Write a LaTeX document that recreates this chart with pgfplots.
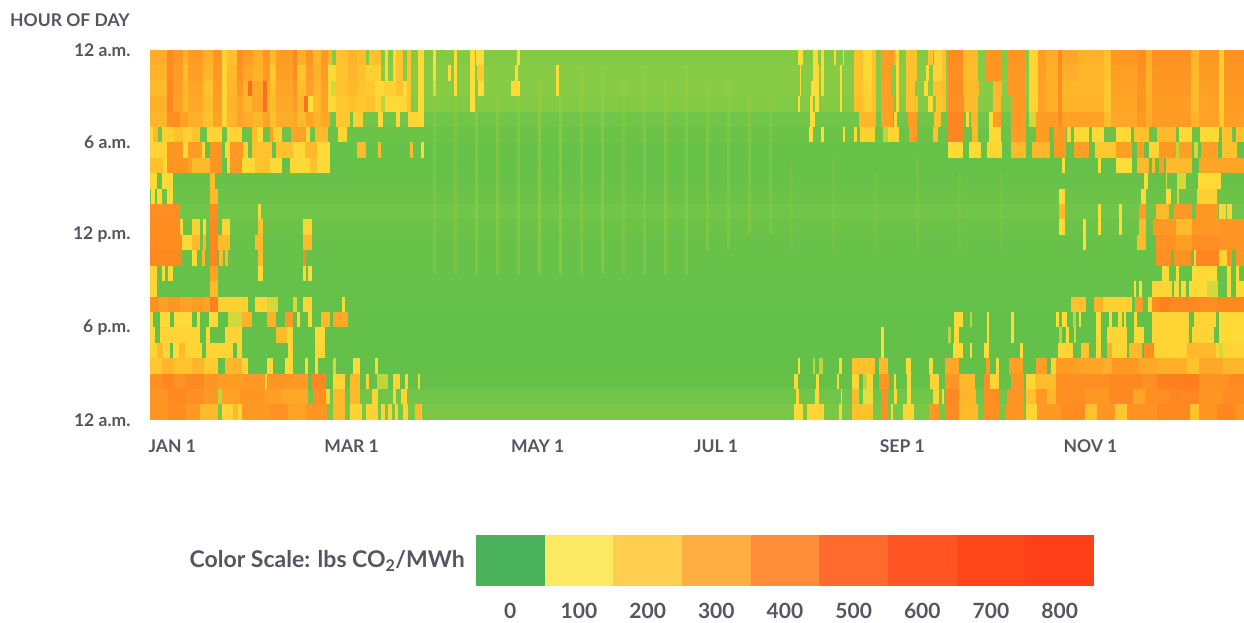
\documentclass[border=0pt]{standalone}
\usepackage{pgfplots}
\pgfplotsset{compat=1.18}
\usepackage{fontspec}
\setmainfont{Lato}
\definecolor{txt}{RGB}{85,86,96}
\newcommand\R[2]{\addplot[mesh,shader=flat corner,line width=15.7pt,point meta=explicit,forget plot] table[row sep=crcr,x index=0,y expr=#1,meta index=1]{#2};}
\newcommand\V[4]{\addplot[color=stripe,line width=2.6pt,opacity=#4,forget plot] coordinates {(#1,#2) (#1,#3)};}
\definecolor{stripe}{RGB}{160,208,62}
\begin{document}
\begin{tikzpicture}[x=1pt,y=1pt]
\path (0,0) rectangle (1244,621);
\begin{axis}[at={(150pt,201pt)},anchor=south west,width=1094pt,height=370pt,scale only axis,
 xmin=0,xmax=365,ymin=0,ymax=24,y dir=reverse,axis line style={draw=none},
 ytick={0,6,12,18,24},yticklabels={12 a.m.,6 a.m.,12 p.m.,6 p.m.,12 a.m.},
 xtick={0,58.7,121,182,244,305.3},xticklabels={JAN 1,MAR 1,MAY 1,JUL 1,SEP 1,NOV 1},
 xticklabel style={anchor=north west,yshift=-16pt,xshift=-5pt,font=\fontsize{17.5}{20}\selectfont\bfseries,text=txt},
 yticklabel style={xshift=-16pt,font=\fontsize{17.5}{20}\selectfont\bfseries,text=txt},
 tick style={draw=none},
 colormap={co2}{rgb255(0)=(92,190,74) rgb255(26)=(104,194,73) rgb255(40)=(136,203,68) rgb255(60)=(190,213,60) rgb255(90)=(255,225,58) rgb255(150)=(255,200,46) rgb255(250)=(255,165,38) rgb255(350)=(255,134,32) rgb255(500)=(245,90,26)},
 point meta min=0,point meta max=500]
\R{0.5}{0 230\\5.6 340\\7.8 290\\11.1 210\\12.8 280\\17.8 220\\21 300\\23.9 120\\25.6 170\\28.9 320\\31 280\\34.4 220\\37.8 300\\40 190\\42.2 280\\47.8 340\\48.9 220\\52 300\\54.4 200\\57.2 290\\59.4 200\\60.6 38\\62.2 170\\66 210\\69 180\\72.2 38\\73.1 170\\77.2 38\\78.3 110\\79.4 38\\81.1 110\\82.2 160\\84.4 38\\85.6 170\\87.2 38\\89.4 110\\91.3 38\\94.5 100\\95.3 38\\101.5 100\\102.5 38\\106.7 100\\108.3 38\\108.7 100\\111.3 38\\122.5 100\\123.5 38\\216.1 100\\217.8 38\\221.1 110\\222.8 38\\223.9 110\\224.8 38\\228.1 110\\228.9 38\\231.1 100\\231.7 38\\235 170\\238 110\\241 170\\242.2 38\\243.9 280\\248.3 200\\248.9 110\\250 38\\252.2 170\\255.8 38\\259.4 170\\261.1 38\\261.7 120\\264.4 170\\265.5 38\\266.1 330\\271.1 190\\276.1 38\\278.9 300\\284.4 38\\286.4 300\\292.2 38\\293.3 120\\296.1 280\\298.9 230\\302.8 340\\304.4 240\\310 210\\318.3 170\\320.6 290\\329.4 320\\332.2 220\\334.4 310\\347.2 200\\350 290\\356.7 130\\358.3 310\\365 310\\}
\R{1.5}{0 210\\5.6 330\\7.8 280\\11.1 180\\12.8 270\\17.8 200\\21 290\\23.9 120\\25.6 190\\28.9 310\\31 240\\34.4 210\\37.8 290\\40 150\\42.2 270\\47.8 330\\48.9 160\\52 280\\54.4 210\\57.2 280\\59.4 110\\62.2 170\\66 200\\69 170\\72.2 130\\77.2 40\\78.3 110\\79.4 40\\81.1 110\\82.2 160\\84.4 40\\85.6 170\\87.2 40\\89.4 110\\91.3 40\\94.5 100\\95.3 40\\99.5 100\\100.5 40\\101.5 100\\102.5 40\\106.7 100\\108.3 40\\109 150\\111.3 40\\121.7 100\\122.8 40\\135.5 100\\136.5 40\\216.7 100\\217.2 40\\221.1 110\\223.1 40\\223.9 110\\224.8 40\\230.3 100\\230.9 40\\235 170\\238 110\\241 170\\242.2 40\\243.9 280\\247.2 40\\248.9 110\\250 40\\252.2 170\\255.8 40\\258.9 100\\260 40\\261.1 120\\264.4 170\\265.5 40\\266.1 320\\271.1 180\\276.1 40\\278.9 300\\284.4 40\\286.4 290\\292.2 40\\293.3 120\\296.1 270\\298.9 220\\302.8 330\\304.4 220\\310 200\\318.3 160\\320.6 270\\329.4 310\\332.2 210\\334.4 300\\347.2 190\\350 280\\356.7 130\\358.3 300\\365 300\\}
\R{2.5}{0 190\\5.6 340\\7.8 270\\11.1 200\\12.8 250\\17.8 170\\21 280\\23.9 120\\25.6 200\\28.9 290\\31 210\\32.6 420\\34 240\\37.8 420\\39 230\\40 170\\42.2 250\\47.8 300\\48.9 180\\52 270\\54.4 200\\57.2 270\\59.4 110\\60.4 70\\62.2 170\\66 190\\69 160\\72.2 150\\75 110\\78 130\\82.2 160\\84.4 100\\85.6 170\\87.2 40\\89.4 110\\91.3 40\\94.5 100\\95.3 40\\101.5 100\\102.5 40\\106.7 100\\108.3 40\\109.4 100\\111.3 40\\120.5 110\\123.3 40\\135.5 100\\136.5 40\\216.7 100\\217.2 40\\220.5 100\\223.1 40\\223.9 110\\224.8 40\\230.3 100\\230.9 40\\235 170\\238 120\\241 170\\242.2 40\\243.9 270\\247.2 40\\248.9 110\\250 40\\252.2 170\\255.3 40\\258.3 100\\259.4 40\\261.1 170\\264.4 190\\265.5 40\\266.1 330\\271.1 190\\276.7 40\\281.1 200\\284.4 40\\286.4 290\\292.2 40\\293.3 120\\296.1 260\\298.9 220\\302.8 330\\304.4 200\\318.3 150\\320.6 260\\329.4 300\\332.2 210\\334.4 290\\347.2 180\\350 270\\356.7 130\\358.3 290\\365 290\\}
\R{3.5}{0 220\\5.6 350\\7.8 260\\11.1 190\\12.8 240\\17.8 180\\21 270\\23.9 120\\25.6 210\\28.9 260\\31 200\\34 250\\37.8 420\\39 220\\40 180\\42.2 240\\47.8 290\\48.9 200\\51.4 420\\52.8 90\\54.4 190\\57.2 260\\59.4 110\\62.2 150\\66 170\\69 150\\72.2 170\\75 120\\77.2 60\\78.3 110\\84.4 120\\85.6 170\\87.2 38\\89.4 110\\91.3 38\\106.7 100\\108.3 38\\216.1 100\\216.9 38\\220.2 100\\221.1 38\\222 100\\223.1 38\\230.3 100\\230.9 38\\235 180\\238 130\\241 170\\242.2 38\\243.9 270\\247.8 38\\248.9 110\\250 38\\252.2 170\\256.1 38\\259.4 110\\261.1 38\\262.2 150\\264.4 170\\265.5 38\\266.1 320\\271.7 190\\276.1 38\\281.1 190\\283.9 38\\287.2 290\\292.2 38\\293.3 120\\296.1 260\\298.9 220\\302.8 330\\304.4 210\\318.3 150\\320.6 250\\329.4 300\\332.2 220\\334.4 280\\347.2 190\\350 260\\356.7 130\\358.3 280\\365 280\\}
\R{4.5}{0 200\\5.6 320\\10 260\\12.8 220\\17.8 170\\21 250\\23.9 120\\25.6 200\\28.9 260\\31 230\\34.4 200\\37.8 260\\40 170\\42.2 230\\47.8 250\\48.9 190\\52 250\\54.4 210\\57.2 240\\60 30\\62.2 150\\66.7 30\\67.8 130\\71.1 30\\76.1 110\\77.8 30\\82.2 110\\83.3 30\\86.1 120\\89.4 110\\91.3 30\\220.2 100\\222 30\\235.8 30\\236.7 200\\242.2 30\\243.9 260\\247.8 30\\248.3 110\\249.1 30\\252.8 280\\255.8 30\\261.7 170\\263.9 30\\266.1 350\\271.1 30\\272.2 100\\273.3 30\\273.9 200\\276.1 30\\280 100\\281.1 280\\283.9 30\\287.2 290\\292.2 30\\293.3 70\\295.6 280\\302.8 340\\304.4 260\\318.3 180\\320.6 240\\329.4 290\\332.2 230\\334.4 280\\347.2 210\\350 260\\356.7 150\\358.3 270\\365 270\\}
\R{5.5}{0 110\\1 190\\2.8 30\\3.9 130\\5 130\\8 170\\11 130\\14 170\\16.7 28\\18.9 120\\23.9 28\\25.6 120\\30.6 28\\33.9 180\\35.6 110\\37.8 28\\40 260\\41.1 130\\43.9 28\\47.2 260\\52 120\\53.3 28\\55 190\\59.4 28\\62.8 120\\65.6 28\\220 100\\221.1 28\\223.9 100\\224.8 28\\231.1 100\\231.9 28\\235 110\\235.9 28\\237 130\\242 28\\244.4 60\\246.1 120\\250 28\\253.1 280\\255.8 28\\261.1 170\\262.8 28\\266.1 350\\271.1 28\\274.2 190\\276.1 28\\280 110\\283.9 28\\287.2 280\\292.2 28\\293.3 28\\295.6 280\\300 28\\301.7 290\\305.6 28\\305.8 120\\307.2 28\\308.3 110\\313.3 28\\314.4 110\\318.3 28\\322.2 110\\327.2 28\\328.3 170\\333.3 28\\336.1 190\\342.2 28\\343.3 110\\347.6 28\\350.2 110\\356.7 28\\357.8 170\\361.1 28\\362.2 170\\365 170\\}
\R{6.5}{0 120\\5.6 300\\11.1 110\\12.8 280\\17.2 110\\18.3 24\\20 300\\23.9 24\\25 110\\26.7 290\\31 120\\32.8 24\\33.9 170\\40.6 24\\42.2 170\\47.8 110\\51.7 190\\55.6 110\\60 24\\68.9 190\\72 24\\76.1 190\\77.2 24\\86.7 190\\87.6 24\\90.3 110\\91.3 24\\266.1 110\\271.1 24\\273.3 110\\277.2 24\\279.1 120\\284.2 24\\287.2 190\\292.2 24\\294.4 200\\300.2 24\\301.7 290\\305.6 24\\308.3 270\\313.3 24\\315.3 150\\322.2 270\\327.6 24\\329.4 280\\331.7 24\\333.3 120\\336.7 290\\342.2 60\\343.3 270\\347.8 24\\348.3 70\\349.8 24\\350.6 270\\356.4 24\\357.8 170\\362.8 24\\365 24\\}
\R{7.5}{0 170\\4.4 110\\5.6 300\\12.8 260\\14 190\\20 300\\23.9 22\\25.6 110\\26.7 290\\30.6 110\\35 170\\40 110\\43.9 22\\46.7 110\\53.3 170\\55.6 110\\60 22\\304.4 100\\305.2 22\\316.3 100\\317.2 22\\322.4 100\\327.6 22\\329.4 190\\333.3 22\\334.4 190\\335.3 22\\336.7 280\\338.3 22\\338.9 190\\347.8 22\\350 250\\365 250\\}
\R{8.5}{0 110\\2.4 26\\3.9 110\\7.6 26\\20 190\\21.7 26\\331.7 100\\332.8 26\\338.9 70\\339.4 26\\342.8 70\\345.6 26\\349.8 110\\357.2 26\\365 26\\}
\R{9.5}{0 28\\0.5 110\\1.7 28\\2.4 110\\3.9 28\\5.6 110\\7.8 28\\20 190\\22.8 28\\303.3 110\\305.2 28\\330.6 110\\332.2 28\\338.9 100\\340.6 28\\342.8 70\\343.3 28\\349.4 130\\356.1 28\\365 28\\}
\R{10.5}{0 320\\10 30\\20 330\\22.8 30\\36.1 110\\36.9 30\\303.3 190\\305.2 30\\316.3 100\\317.2 30\\323.3 100\\324.2 30\\330 280\\332.2 30\\335.6 190\\340 30\\341.7 290\\347.6 30\\348.9 290\\356.4 30\\356.7 120\\358.9 30\\359.4 120\\361.1 30\\365 30\\}
\R{11.5}{0 330\\10 110\\11 28\\13.9 130\\16.7 28\\17.8 110\\18.7 28\\20 340\\22.8 28\\23.9 120\\26.7 28\\36.1 170\\37.8 28\\51.1 120\\53.9 28\\303.3 110\\305.2 28\\311.3 100\\312.2 28\\316.3 100\\317.2 28\\323.3 100\\324.2 28\\329.8 190\\332.2 28\\334.7 290\\342.2 190\\347.8 290\\356.7 300\\365 300\\}
\R{12.5}{0 330\\10.6 110\\13.9 190\\16.7 28\\17.8 200\\18.7 26\\20 340\\22.8 180\\26.7 26\\35 190\\37.8 26\\51.1 190\\53.9 26\\311.3 100\\312.2 26\\329.4 190\\332.2 26\\335.6 310\\342.2 270\\347.8 320\\356.7 300\\365 310\\}
\R{13.5}{0 340\\10.6 26\\13.9 110\\15.6 26\\17.2 200\\18.3 26\\20 350\\22.2 26\\23 190\\24.2 26\\25 190\\26 26\\36.1 190\\37.8 26\\51.1 330\\52 26\\335.6 320\\340.6 26\\341.7 310\\347.2 26\\348.3 120\\348.9 350\\356.7 120\\359.4 320\\361.1 26\\362.2 300\\365 300\\}
\R{14.5}{0 120\\2.4 24\\3.9 110\\5 24\\6 110\\7.8 24\\20 260\\22.8 24\\36.1 110\\37.8 24\\51.1 110\\52 24\\52.8 100\\53.9 24\\337.8 110\\340 24\\342.2 110\\343.3 24\\345.6 24\\347.6 100\\349.4 110\\356.1 24\\359.4 110\\360.6 24\\362.2 110\\363.3 24\\365 24\\}
\R{15.5}{0 120\\2.4 20\\20 190\\22.8 20\\328.3 100\\329.1 20\\330 100\\331.1 20\\334.4 120\\341.1 20\\341.7 110\\343.3 20\\343.9 110\\345.8 20\\346.7 110\\352.8 70\\356.4 20\\359.4 110\\360.6 20\\362.2 110\\365 110\\}
\R{16.5}{0 310\\3 270\\6 300\\10 260\\14 280\\18 250\\20 360\\22.8 130\\32.8 18\\35 120\\38.9 70\\42.8 18\\47.8 70\\48.9 18\\51.1 120\\53.9 18\\63.9 110\\65 18\\307.2 170\\312.2 18\\315 210\\317.8 130\\327.6 18\\328.7 280\\331.3 18\\332.8 110\\334.2 18\\334.4 330\\337 370\\340 340\\350 320\\356 340\\365 330\\}
\R{17.5}{0 110\\1.1 16\\3.5 110\\6.7 16\\8 110\\13.9 16\\15.8 110\\16.7 16\\19.8 110\\22.8 16\\26 70\\30.6 210\\33.9 16\\38.9 220\\42.2 16\\45 290\\47.8 16\\48.9 110\\50 16\\52.8 110\\53.9 16\\57.2 190\\60 16\\61.1 240\\66.1 16\\268.3 110\\271.1 16\\273.6 60\\274.2 16\\279.4 100\\280 16\\287.2 100\\288.3 16\\302.4 100\\303.3 16\\304.4 100\\306.1 16\\308 60\\308.9 16\\310 100\\310.6 16\\315.6 110\\317.2 16\\320 100\\321.1 16\\322.8 110\\324.2 16\\325 100\\325.6 16\\328.3 100\\329.4 16\\334.4 120\\346.7 16\\348.3 120\\355.6 16\\356.7 110\\365 110\\}
\R{18.5}{0 110\\1.7 15\\3.5 120\\16.7 15\\18.7 110\\20 15\\25 120\\30.6 15\\42.2 190\\45.6 110\\47.8 15\\55 110\\58.3 15\\243.9 100\\245 15\\266.1 60\\267.2 15\\268.3 110\\270 15\\279.4 100\\280 15\\287.2 100\\288.3 15\\303.3 60\\304.4 15\\305.6 100\\306.7 15\\308.3 70\\308.9 15\\315.6 110\\317.2 15\\319.4 120\\326.1 15\\328.3 110\\331.7 15\\334.4 120\\346.7 15\\347.8 120\\355 15\\356.7 110\\365 110\\}
\R{19.5}{0 120\\2.2 190\\4.4 120\\6.7 15\\7.8 110\\9.8 190\\11.7 120\\17.2 15\\18.7 120\\27.8 15\\28.9 120\\30.6 15\\46.1 120\\47.8 15\\55 120\\58.3 15\\243.9 100\\245 15\\267.8 110\\271.1 15\\273.6 100\\274.2 15\\278.3 100\\280 15\\290.2 100\\291.1 15\\302.8 120\\307.8 15\\310.6 170\\313.3 15\\315.6 120\\317.2 15\\319.4 220\\321.1 120\\326.1 15\\326.7 190\\331.1 15\\331.7 320\\335 120\\346.1 190\\355.6 120\\356.7 70\\358 120\\365 120\\}
\R{20.5}{0 150\\4 200\\8 170\\14 200\\18 140\\22.8 16\\25 200\\30.6 120\\32.8 16\\38.9 110\\40.9 16\\45 110\\47.8 16\\51.7 110\\52.8 16\\55 110\\56.1 16\\61.1 70\\62 16\\67.8 110\\70 16\\75 110\\76.1 16\\216.1 100\\216.9 16\\221.1 60\\221.7 16\\223.3 60\\224.7 16\\230 110\\230.9 16\\234.2 170\\242 16\\243.3 190\\246.1 16\\252.2 110\\253.9 16\\260 110\\261.1 16\\265.3 240\\270 16\\278.9 280\\280.2 16\\282.2 110\\283.1 16\\286.7 270\\291.1 16\\295.6 270\\299.4 16\\300.6 120\\302.2 280\\310 250\\318 220\\321 290\\330 240\\336 220\\346 170\\350 240\\358 200\\365 220\\}
\R{21.5}{0 320\\4 350\\8 310\\12 340\\18 300\\22.8 280\\32 290\\38.3 120\\38.9 300\\47 290\\52.8 22\\53.9 350\\58.7 22\\61.1 120\\65 22\\66.7 190\\70 22\\71.9 120\\73.1 22\\75.6 60\\79.4 22\\81.1 120\\83.3 22\\85 120\\86.1 22\\89.4 120\\90.2 22\\215 110\\216.1 22\\222.2 110\\223.1 22\\229.1 110\\230 22\\234.2 120\\236.7 22\\237.8 60\\239.1 120\\241.1 22\\243.3 300\\246.7 22\\248.3 110\\248.9 22\\252.4 110\\253.9 22\\260.2 120\\263.1 22\\265.3 300\\270 190\\275.3 22\\278.3 320\\280.2 120\\283.3 22\\287.2 300\\291.7 22\\292.4 120\\295.3 180\\302.2 320\\320 340\\331 320\\336 370\\345 380\\350 310\\360 340\\365 330\\}
\R{22.5}{0 300\\6 340\\12 320\\18 290\\22.8 60\\24 260\\30 300\\38 270\\44 240\\52.8 30\\54.5 320\\58.7 120\\60 30\\61.1 190\\65 30\\66.7 190\\70 30\\73.9 120\\76.1 30\\81.1 120\\82.2 30\\83.9 120\\85.6 30\\215.6 110\\216.4 30\\222 110\\223.1 30\\230.6 100\\230.9 30\\234.2 190\\235.8 60\\236.7 30\\237.8 80\\241.1 30\\243.9 320\\246.1 30\\248.3 110\\249.1 30\\252.4 110\\253.9 30\\261.1 120\\263.1 30\\264.4 110\\265 30\\265.3 340\\270 200\\275.6 30\\278.3 320\\283.3 30\\285.8 300\\291.7 30\\292.4 170\\295.6 290\\299.4 200\\302.2 320\\312 290\\320 340\\328 250\\332 320\\340 350\\350 300\\358 330\\365 310\\}
\R{23.5}{0 300\\6 330\\12 290\\16.7 190\\22.8 34\\23.9 120\\27.8 190\\29.4 120\\30.6 290\\40 310\\46 260\\52 300\\58.9 34\\61.1 190\\65 34\\66.7 120\\70.6 34\\72.2 120\\76.1 34\\77.2 120\\78.3 34\\79.4 120\\80.6 34\\81.7 120\\82.8 34\\84.4 120\\86.1 34\\88.3 190\\90.5 120\\90.9 34\\215 110\\218 34\\219.1 120\\225 34\\230 120\\230.9 34\\234.2 170\\241.1 34\\243.9 320\\246.1 34\\247.2 110\\248 34\\251.1 120\\255 34\\260 290\\263.1 34\\265.3 330\\270 190\\276.1 34\\278.3 320\\283.3 34\\285.6 300\\291.7 34\\292.4 120\\296 290\\304 330\\312 170\\316 300\\322 150\\326 310\\336 340\\347 170\\350 300\\356 350\\362 300\\365 300\\}
\V{95}{2}{14.5}{.3}
\V{102}{3}{14.5}{.3}
\V{109}{4}{14.5}{.4}
\V{116}{3}{14.5}{.4}
\V{123}{3}{14.5}{.4}
\V{130}{2}{14.5}{.5}
\V{137}{3}{14.5}{.5}
\V{144}{1}{14.5}{.35}
\V{151}{1}{14.5}{.45}
\V{158}{2}{14.5}{.3}
\V{165}{1}{14.5}{.35}
\V{172}{2}{14.5}{.4}
\V{179}{1}{14.5}{.4}
\V{186}{2}{13}{.35}
\V{193}{2}{13}{.35}
\V{200}{3}{12}{.35}
\V{207}{3}{12}{.3}
\V{214}{7}{13}{.15}
\V{228}{7}{13}{.2}
\V{242}{8}{13}{.15}
\V{256}{7}{13}{.2}
\V{270}{8}{13}{.15}
\V{284}{8}{13}{.15}
\end{axis}
\begin{axis}[at={(476pt,35pt)},anchor=south west,width=618pt,height=51pt,scale only axis,
 xmin=-50,xmax=850,ymin=0,ymax=1,axis line style={draw=none},ytick=\empty,tick style={draw=none},
 xtick={0,100,...,800},xticklabels={0,100,200,300,400,500,600,700,800},
 xticklabel style={yshift=-14pt,font=\fontsize{21}{24}\selectfont\bfseries,text=txt}]
\addplot[draw=none,fill={rgb,255:red,76;green,179;blue,93}] coordinates {(-50,0)(50,0)(50,1)(-50,1)} --cycle;
\addplot[draw=none,fill={rgb,255:red,251;green,233;blue,100}] coordinates {(50,0)(150,0)(150,1)(50,1)} --cycle;
\addplot[draw=none,fill={rgb,255:red,255;green,205;blue,80}] coordinates {(150,0)(250,0)(250,1)(150,1)} --cycle;
\addplot[draw=none,fill={rgb,255:red,255;green,174;blue,66}] coordinates {(250,0)(350,0)(350,1)(250,1)} --cycle;
\addplot[draw=none,fill={rgb,255:red,255;green,140;blue,56}] coordinates {(350,0)(450,0)(450,1)(350,1)} --cycle;
\addplot[draw=none,fill={rgb,255:red,255;green,107;blue,44}] coordinates {(450,0)(550,0)(550,1)(450,1)} --cycle;
\addplot[draw=none,fill={rgb,255:red,255;green,85;blue,36}] coordinates {(550,0)(650,0)(650,1)(550,1)} --cycle;
\addplot[draw=none,fill={rgb,255:red,255;green,69;blue,25}] coordinates {(650,0)(750,0)(750,1)(650,1)} --cycle;
\addplot[draw=none,fill={rgb,255:red,255;green,63;blue,24}] coordinates {(750,0)(850,0)(850,1)(750,1)} --cycle;
\end{axis}
\node[anchor=west,text=txt,font=\fontsize{17.5}{20}\selectfont\bfseries,inner sep=0pt] at (10,601) {HOUR OF DAY};
\node[anchor=east,text=txt,font=\fontsize{23}{26}\selectfont\bfseries,inner sep=0pt] at (465,60) {Color Scale: lbs CO\textsubscript{2}/MWh};
\end{tikzpicture}
\end{document}
